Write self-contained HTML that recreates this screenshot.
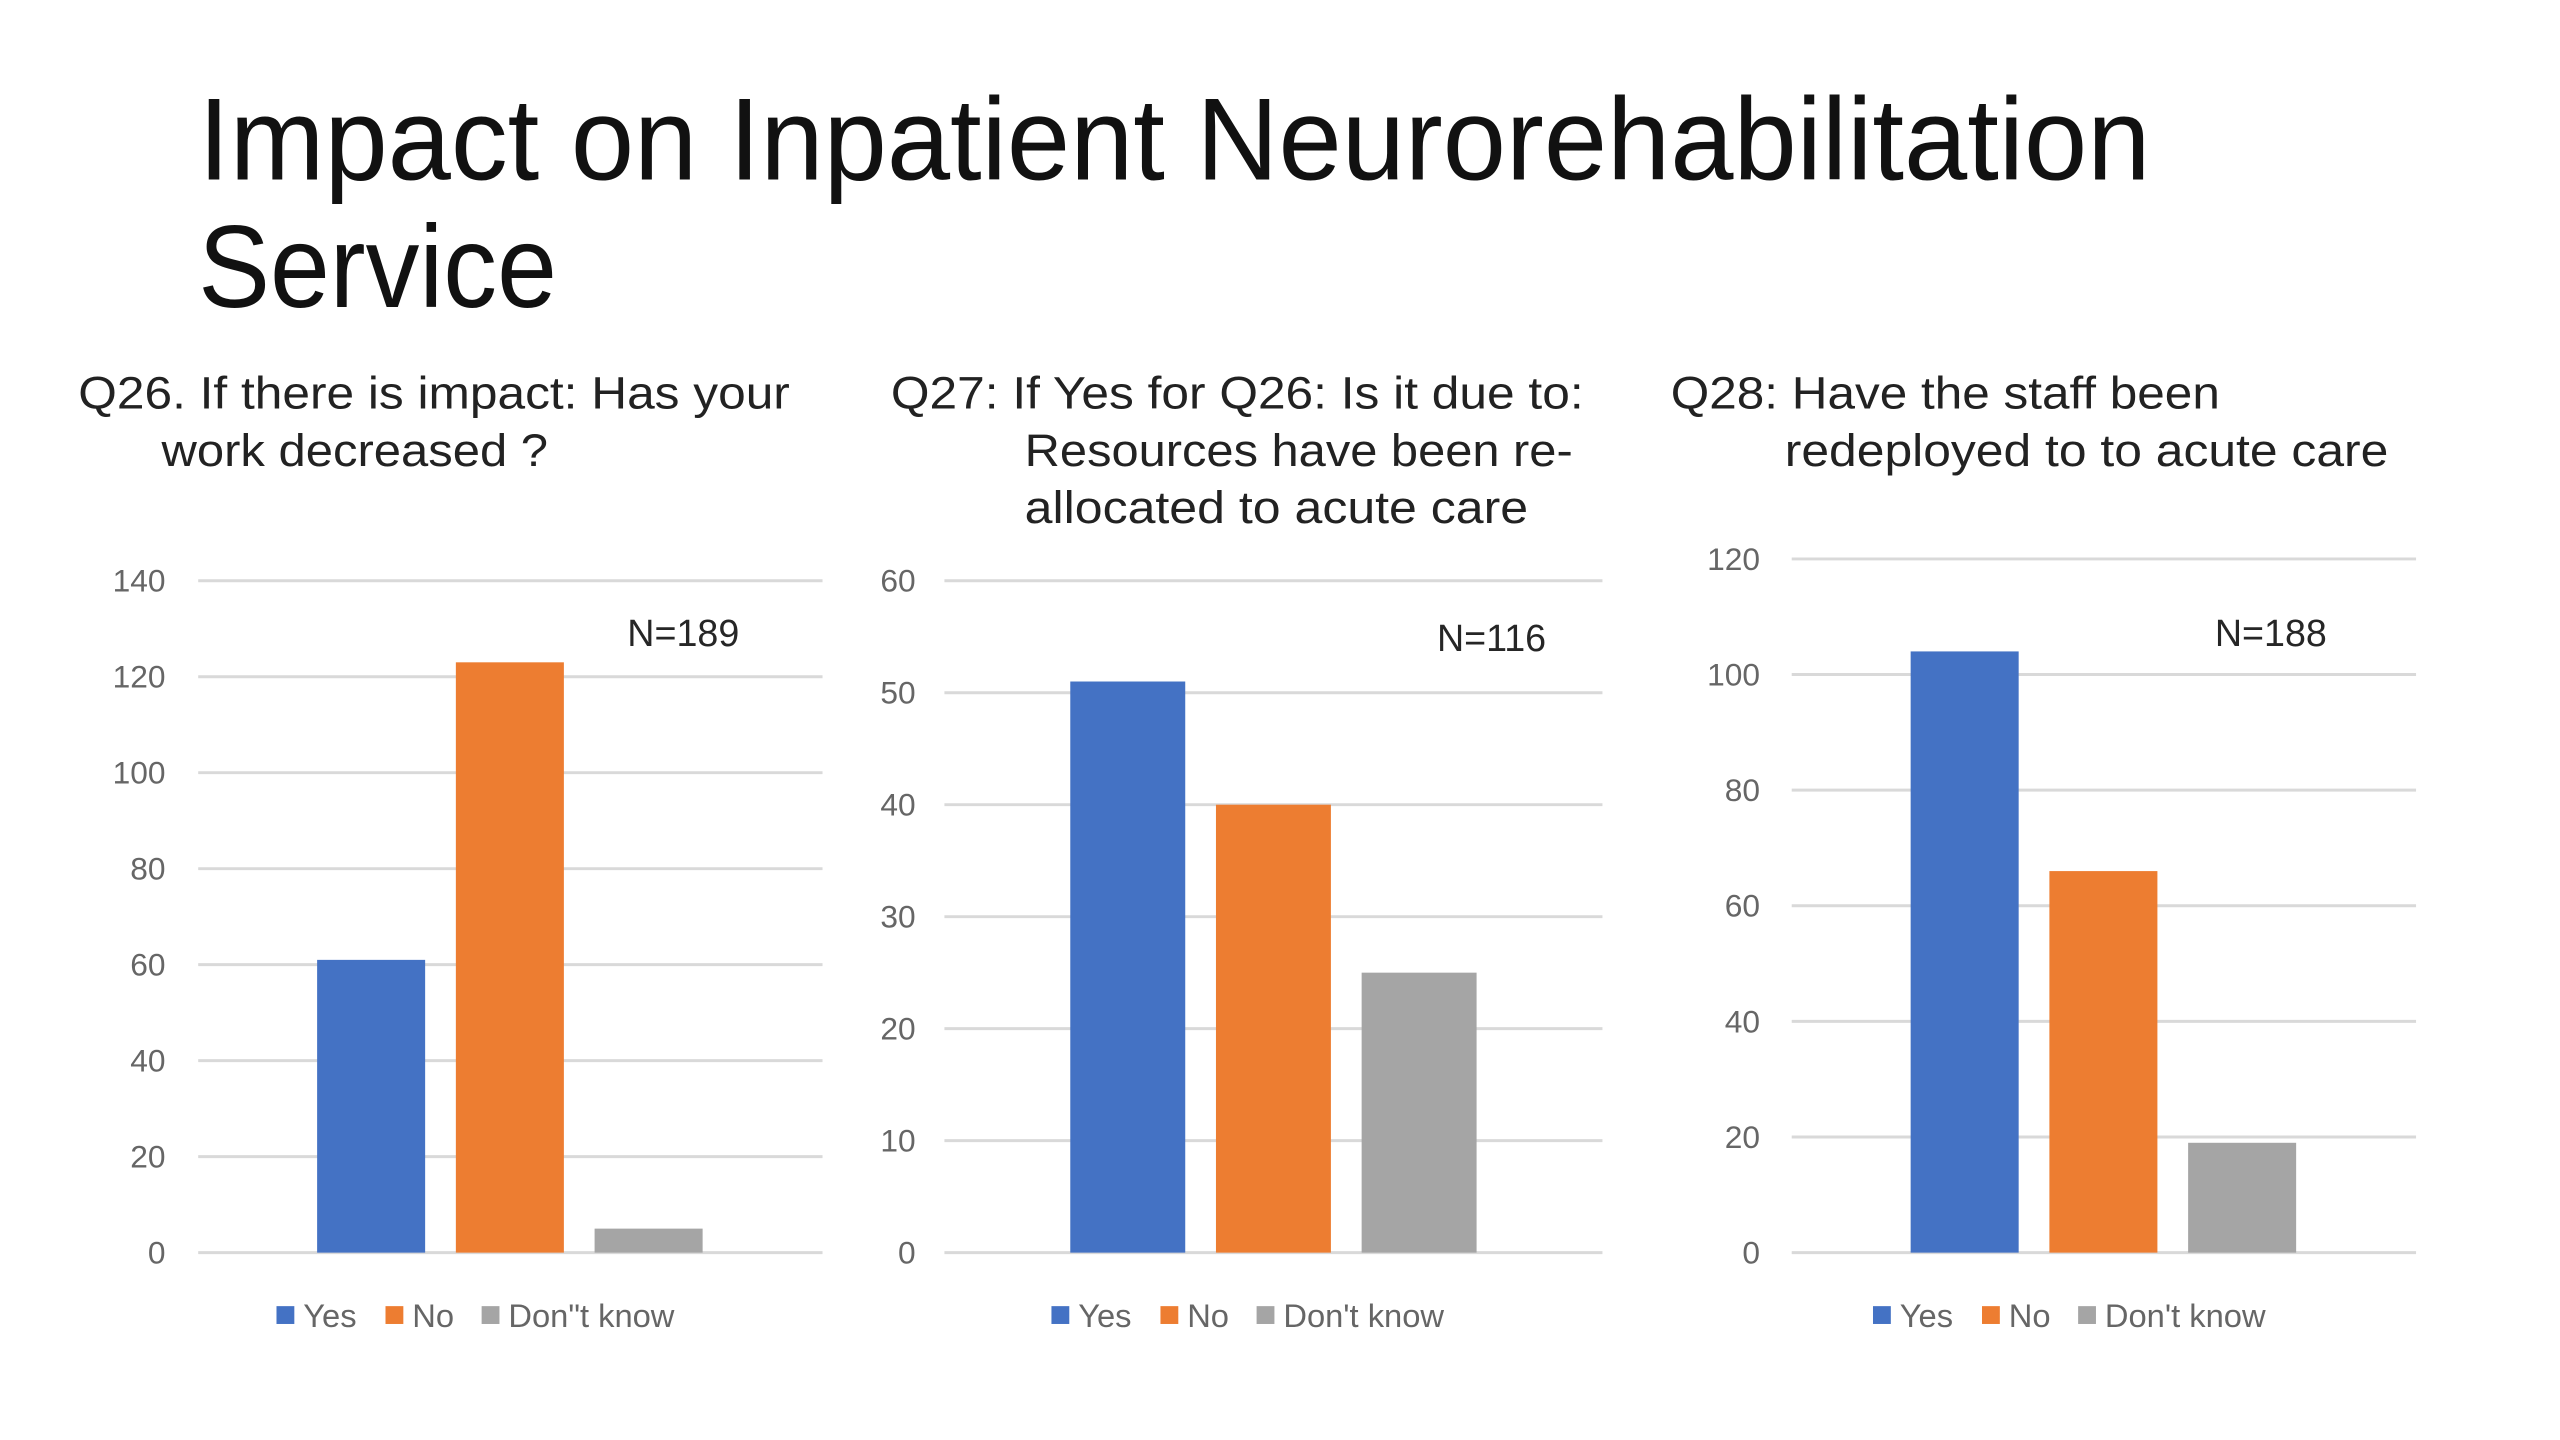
<!DOCTYPE html>
<html><head><meta charset="utf-8"><style>
html,body{margin:0;padding:0;background:#fff}
svg{display:block}
text{font-family:"Liberation Sans",sans-serif}
</style></head><body>
<svg id="s" width="2560" height="1440" viewBox="0 0 2560 1440" xmlns="http://www.w3.org/2000/svg">
<rect width="2560" height="1440" fill="#fff"/>
<g transform="scale(0.991)">
<g fill="#111" font-size="118" font-weight="300">
<text x="200" y="181" textLength="1970" lengthAdjust="spacingAndGlyphs">Impact on Inpatient Neurorehabilitation</text>
<text x="200" y="310" textLength="362" lengthAdjust="spacingAndGlyphs">Service</text>
</g>
<g fill="#222" font-size="46">
<text x="79" y="412" textLength="718" lengthAdjust="spacingAndGlyphs">Q26. If there is impact: Has your</text>
<text x="163" y="470" textLength="390" lengthAdjust="spacingAndGlyphs">work decreased ?</text>
<text x="899" y="412" textLength="699" lengthAdjust="spacingAndGlyphs">Q27: If Yes for Q26: Is it due to:</text>
<text x="1034" y="470" textLength="553" lengthAdjust="spacingAndGlyphs">Resources have been re-</text>
<text x="1034" y="528" textLength="508" lengthAdjust="spacingAndGlyphs">allocated to acute care</text>
<text x="1686" y="412" textLength="554" lengthAdjust="spacingAndGlyphs">Q28: Have the staff been</text>
<text x="1801" y="470" textLength="609" lengthAdjust="spacingAndGlyphs">redeployed to to acute care</text>
</g>
<g id="charts"></g>
</g>
</svg>
<script>
const categories = ["Yes","No","Don't know"];
const q26Values = [61,123,5];
const q27Values = [51,40,25];
const q28Values = [104,66,19];
const q26Ticks = [0,20,40,60,80,100,120,140];
const q27Ticks = [0,10,20,30,40,50,60];
const q28Ticks = [0,20,40,60,80,100,120];
const q26Legend = ["Yes","No","Don\"t know"];
const q27Legend = ["Yes","No","Don't know"];
const q28Legend = ["Yes","No","Don't know"];
const nLabels = ["N=189","N=116","N=188"];
const colors = ["#4472c4","#ed7d31","#a5a5a5"];
const NS="http://www.w3.org/2000/svg";
const root=document.getElementById('charts');
function mk(tag,attrs,parent){const e=document.createElementNS(NS,tag);for(const k in attrs)e.setAttribute(k,attrs[k]);parent.appendChild(e);return e;}
const layouts=[
 {id:'q26',x0:200,x1:830,yTop:586,yBot:1264,labelX:167,barX:320,barW:109,gap:140,nx:633,ny:652,legX:279},
 {id:'q27',x0:953,x1:1617,yTop:586,yBot:1264,labelX:924,barX:1080,barW:116,gap:147,nx:1450,ny:657,legX:1061},
 {id:'q28',x0:1808,x1:2438,yTop:564,yBot:1264,labelX:1776,barX:1928,barW:109,gap:140,nx:2235,ny:652,legX:1890}
];
const datasets=[[q26Values,q26Ticks,q26Legend],[q27Values,q27Ticks,q27Legend],[q28Values,q28Ticks,q28Legend]];
layouts.forEach((L,i)=>{
 const [vals,ticks,leg]=datasets[i];
 const max=ticks[ticks.length-1];
 const y=v=>L.yBot-(v/max)*(L.yBot-L.yTop);
 const g=mk('g',{},root);
 
 
 ticks.forEach(t=>{
  const ln=mk('line',{x1:L.x0,x2:L.x1,y1:y(t),y2:y(t),stroke:'#d9d9d9','stroke-width':3},g);
  
  
  const tx=mk('text',{x:L.labelX,y:y(t)+11,'text-anchor':'end','font-size':32,fill:'#666'},g);
  
  
  tx.textContent=t;
 });
 vals.forEach((v,j)=>{
  const r=mk('rect',{x:L.barX+j*L.gap,y:y(v),width:L.barW,height:y(0)-y(v),fill:colors[j]},g);
  
  
 });
 const n=mk('text',{x:L.nx,y:L.ny,'font-size':38,fill:'#262626'},g);
 
 
 n.textContent=nLabels[i];
 const offs=[0,110,207];
 leg.forEach((s,j)=>{
  const lg=mk('g',{},g);
  
  
  mk('rect',{x:L.legX+offs[j],y:1318,width:18,height:18,fill:colors[j]},lg);
  const t=mk('text',{x:L.legX+offs[j]+27,y:1339,'font-size':33,fill:'#666'},lg);
  t.textContent=s;
 });
});
</script>
</body></html>
